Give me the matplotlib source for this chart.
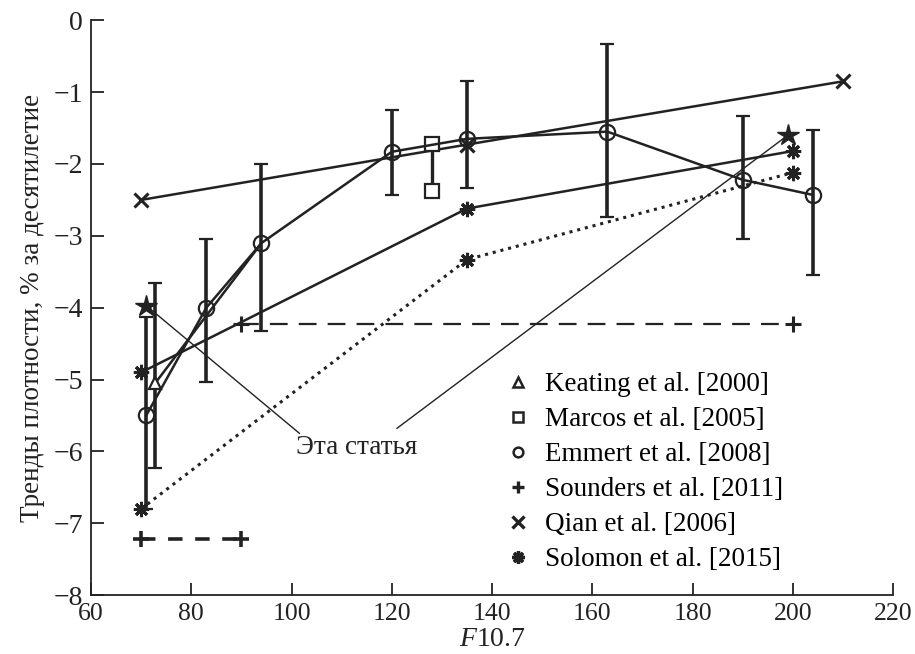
import numpy as np
import matplotlib
matplotlib.use("Agg")
import matplotlib.pyplot as plt
from matplotlib.lines import Line2D

plt.rcParams['font.family'] = ['Liberation Serif', 'DejaVu Serif']
plt.rcParams['mathtext.fontset'] = 'custom'
plt.rcParams['mathtext.it'] = 'Liberation Serif:italic'
plt.rcParams['mathtext.rm'] = 'Liberation Serif'

INK = '#222222'

# Emmert et al. [2008]
emm_x = [71, 83, 94, 120, 135, 163, 190, 204]
emm_y = [-5.5, -4.0, -3.1, -1.83, -1.65, -1.55, -2.22, -2.43]
emm_hi = [-4.13, -3.05, -2.0, -1.25, -0.85, -0.33, -1.33, -1.53]
emm_lo = [-6.8, -5.04, -4.32, -2.43, -2.33, -2.74, -3.05, -3.55]

# Keating et al. [2000]
kea_x = [72.8, 94]
kea_y = [-5.05, -3.1]
kea_hi = -3.65
kea_lo = -6.23

# Marcos et al. [2005]
mar_x = [128, 128]
mar_y = [-1.72, -2.37]

# Sounders et al. [2011]
sou1_x = [90, 200]
sou1_y = [-4.22, -4.22]
sou2_x = [70, 90]
sou2_y = [-7.22, -7.22]

# Qian et al. [2006]
qia_x = [70, 135, 210]
qia_y = [-2.5, -1.73, -0.85]

# Solomon et al. [2015]
sol1_x = [70, 90, 135, 200]
sol1_y = [-4.9, -4.2, -2.62, -1.82]
sol2_x = [70, 135, 200]
sol2_y = [-6.8, -3.33, -2.12]

# this paper (stars)
this_x = [71, 199]
this_y = [-3.97, -1.6]

labels = ['Keating et al. [2000]', 'Marcos et al. [2005]', 'Emmert et al. [2008]',
          'Sounders et al. [2011]', 'Qian et al. [2006]', 'Solomon et al. [2015]']

fig = plt.figure(figsize=(9.15, 6.54), dpi=100)
ax = fig.add_axes([0.0995, 0.090, 0.8765, 0.879])

ast = (8, 2, 0)

# Qian
ax.plot(qia_x, qia_y, color=INK, lw=1.8, marker='x', ms=10, mew=2.2)
# Solomon
ax.plot(sol1_x, sol1_y, color=INK, lw=1.8, marker=ast, ms=11, mew=2.2, markevery=[0, 2, 3])
ax.plot(sol2_x, sol2_y, color=INK, lw=2.2, ls=(0, (1, 1.6)), marker=ast, ms=11, mew=2.2)
# Sounders
ax.plot(sou1_x, sou1_y, color=INK, lw=1.6, ls=(0, (8, 5)), marker='+', ms=11, mew=2.2)
ax.plot(sou2_x, sou2_y, color=INK, lw=2.6, ls=(0, (4, 3.5)), marker='+', ms=11, mew=2.6)
# Keating
ax.plot(kea_x, kea_y, color=INK, lw=1.8)
ax.errorbar(kea_x[0], kea_y[0], yerr=[[kea_y[0] - kea_lo], [kea_hi - kea_y[0]]],
            fmt='^', color=INK, mfc='white', ms=9, mew=1.6, elinewidth=2.6,
            capsize=5, capthick=2.4)
# Marcos
ax.plot(mar_x, mar_y, color=INK, lw=2.4, marker='s', ms=10, mfc='white', mew=1.6)
# Emmert
emm_y_arr = np.array(emm_y)
yerr = [emm_y_arr - np.array(emm_lo), np.array(emm_hi) - emm_y_arr]
ax.errorbar(emm_x, emm_y, yerr=yerr, fmt='-o', color=INK, lw=1.8, mfc='none',
            ms=11, mew=1.6, elinewidth=2.6, capsize=5, capthick=2.4)
# stars
ax.plot(this_x, this_y, ls='none', marker='*', ms=16, color=INK)

ax.annotate('', xy=(this_x[0], this_y[0]), xytext=(101.6, -5.75),
            arrowprops=dict(arrowstyle='-', lw=1.0, color=INK, shrinkA=0, shrinkB=0))
ax.annotate('', xy=(this_x[1], this_y[1]), xytext=(121.0, -5.68),
            arrowprops=dict(arrowstyle='-', lw=1.0, color=INK, shrinkA=0, shrinkB=0))
ax.text(112.9, -5.95, 'Эта статья', fontsize=19.5, ha='center', va='center', color=INK)

ax.set_xlim(60, 220)
ax.set_ylim(-8, 0)
ax.set_xticks(np.arange(60, 221, 20))
ax.set_yticks(np.arange(-8, 1, 1))
ax.spines['top'].set_visible(False)
ax.spines['right'].set_visible(False)
for s in ('left', 'bottom'):
    ax.spines[s].set_linewidth(1.3)
    ax.spines[s].set_color(INK)
ax.tick_params(direction='in', length=9, width=1.3, labelsize=20, colors=INK, pad=6)
ax.tick_params(axis='x', labelsize=18.5)
ax.set_xlabel('$F$10.7', fontsize=20, labelpad=1, color=INK)
ax.set_ylabel('Тренды плотности, % за десятилетие', fontsize=19.5, labelpad=6, color=INK)

handles = [
    Line2D([], [], ls='none', marker='^', ms=7, mfc='white', mec=INK, mew=1.8),
    Line2D([], [], ls='none', marker='s', ms=7, mfc='white', mec=INK, mew=1.8),
    Line2D([], [], ls='none', marker='o', ms=7, mfc='white', mec=INK, mew=1.8),
    Line2D([], [], ls='none', marker='+', ms=9, mec=INK, mew=2.4),
    Line2D([], [], ls='none', marker='x', ms=8, mec=INK, mew=2.4),
    Line2D([], [], ls='none', marker=ast, ms=9, mec=INK, mew=2.4),
]
ax.legend(handles, labels, loc='upper left', bbox_to_anchor=(0.551, 0.431),
          bbox_transform=fig.transFigure, frameon=False, fontsize=19.5,
          handlelength=1.0, handletextpad=0.5, labelspacing=0.37,
          borderpad=0, borderaxespad=0)

fig.savefig('out.png', dpi=100)
